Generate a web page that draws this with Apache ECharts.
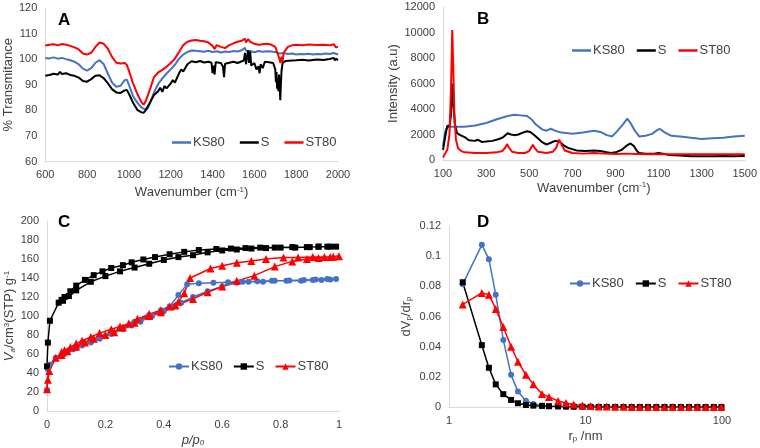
<!DOCTYPE html>
<html><head><meta charset="utf-8">
<script src="https://cdn.jsdelivr.net/npm/echarts@6/dist/echarts.min.js"></script>
<style>html,body{margin:0;padding:0;background:#fff}#c{width:760px;height:448px}</style>
</head><body><div id="c"></div>
<script>
// ---------- Panel A : FTIR ----------
const ftirKS80X = [600,620,640,660,680,700,720,740,760,780,800,820,840,860,880,900,920,940,960,980,990,1000,1020,1040,1060,1080,1090,1100,1120,1140,1160,1180,1200,1220,1240,1260,1280,1300,1320,1340,1360,1380,1400,1420,1440,1460,1480,1500,1520,1540,1555,1560,1580,1600,1620,1640,1660,1680,1700,1720,1740,1760,1780,1800,1820,1840,1860,1880,1900,1920,1940,1960,1980,2000];
const ftirKS80Y = [100.5,100.3,100.7,100.2,100.5,100.0,99.6,99.0,98.0,96.3,95.5,96.5,98.6,99.6,98.0,94.2,90.8,89.2,89.6,91.8,92.0,90.0,85.5,83.0,81.2,80.3,80.8,82.5,87.0,90.3,92.5,94.4,96.0,97.8,100.2,101.8,102.8,103.4,103.3,103.1,102.9,103.3,102.8,103.1,102.6,103.0,102.8,103.2,103.0,103.5,104.4,103.3,103.2,102.7,103.2,102.9,103.1,103.0,102.8,102.2,102.4,102.0,102.2,101.8,102.0,101.9,102.1,101.8,102.0,101.9,102.2,102.0,102.4,101.8];
const ftirSX = [600,620,640,660,670,680,700,720,740,760,780,800,820,840,860,880,900,920,940,960,980,990,1000,1020,1040,1060,1070,1080,1100,1120,1140,1150,1160,1170,1180,1200,1210,1220,1240,1250,1260,1280,1300,1320,1340,1360,1380,1395,1400,1405,1410,1415,1440,1450,1455,1460,1480,1500,1520,1540,1550,1555,1560,1570,1575,1580,1585,1600,1610,1620,1625,1630,1640,1650,1670,1690,1700,1703,1706,1709,1712,1715,1718,1721,1724,1727,1730,1735,1750,1780,1800,1830,1860,1900,1930,1960,1980,1985,1990,2000];
const ftirSY = [93.5,93.8,94.3,94.0,95.0,94.2,94.5,93.8,93.5,92.8,91.5,91.2,92.2,93.5,93.7,92.5,90.5,88.2,87.0,86.8,87.8,88.0,86.5,83.0,80.2,79.2,79.0,80.0,83.0,86.0,87.5,88.8,87.2,89.5,88.6,90.5,91.8,90.8,94.5,96.0,95.2,98.0,99.2,98.8,99.3,98.7,99.0,98.6,94.5,97.5,94.0,98.8,98.5,97.0,93.0,98.2,98.6,99.0,98.5,99.2,99.5,102.5,98.0,103.5,98.5,103.0,97.5,98.5,96.0,97.2,94.5,98.0,96.5,99.0,98.8,98.5,96.0,91.0,95.0,88.5,92.0,87.5,94.0,89.0,84.0,90.5,95.5,98.5,99.3,99.5,99.6,99.8,99.5,99.9,99.7,100.1,100.5,99.5,100.3,99.6];
const ftirST80X = [600,620,640,660,680,700,720,740,760,780,800,820,840,860,880,900,920,940,960,980,990,1000,1020,1040,1060,1070,1080,1100,1120,1140,1160,1180,1200,1220,1240,1260,1280,1300,1320,1340,1360,1380,1400,1410,1420,1440,1460,1480,1500,1520,1540,1555,1560,1570,1580,1600,1620,1640,1660,1680,1700,1710,1720,1725,1730,1735,1740,1760,1780,1800,1830,1860,1900,1930,1960,1980,1990,2000];
const ftirST80Y = [105.3,105.6,105.8,105.4,105.9,105.6,105.2,104.6,103.8,102.2,101.8,102.5,104.8,106.5,106.0,104.0,100.8,98.6,98.3,98.5,97.8,95.5,90.5,86.5,83.2,82.2,83.5,88.0,93.0,94.8,95.8,97.0,98.5,100.2,102.8,105.5,106.8,107.3,107.5,107.2,107.0,106.5,105.2,104.0,105.5,104.8,104.3,105.5,106.2,106.8,107.2,108.0,106.5,107.8,106.8,106.0,105.6,105.8,106.0,105.7,104.8,102.5,100.0,98.5,101.0,99.0,102.5,104.8,105.4,105.6,105.4,105.7,105.5,105.6,105.4,105.8,104.6,104.8];

// ---------- Panel B : Raman ----------
const ramKS80X = [100,110,120,150,200,250,300,350,400,430,460,490,510,530,560,580,600,620,650,700,750,800,830,860,885,910,935,955,970,990,1010,1040,1070,1090,1105,1130,1160,1200,1250,1300,1350,1400,1450,1500];
const ramKS80Y = [1100,2200,2600,2600,2600,2700,2900,3200,3450,3550,3500,3450,3200,2800,2400,2300,2450,2300,2150,2050,2150,2300,2200,1950,1850,2300,2800,3250,2900,2300,1850,1900,2050,2300,2450,2150,1900,1850,1750,1650,1700,1750,1850,1900];
const ramSX = [100,110,120,130,137,143,148,155,165,180,200,220,250,260,280,300,330,360,380,400,415,430,450,470,490,505,520,540,560,580,600,620,640,660,680,700,720,760,800,830,860,880,900,930,950,970,985,1000,1010,1040,1080,1100,1120,1150,1200,1250,1300,1350,1400,1450,1500];
const ramSY = [800,1800,2700,2600,3500,6000,4500,2800,2100,1950,1800,1550,1500,1600,1420,1450,1500,1650,1800,2100,2000,1950,2000,2150,2250,2200,2000,1700,1400,1200,1350,1500,1450,1150,950,850,750,700,750,700,600,550,600,800,1100,1300,1100,700,550,500,500,550,500,400,350,300,300,300,320,300,320];
const ramST80X = [100,110,120,130,137,143,148,153,160,170,185,200,250,300,350,375,390,397,405,420,450,480,500,510,517,525,540,580,610,625,639,650,665,700,750,800,850,900,950,1000,1050,1100,1200,1300,1400,1500];
const ramST80Y = [200,500,800,2000,5500,10200,7000,3500,1600,900,700,600,550,550,600,700,1000,1250,1000,650,550,550,700,1000,1200,950,650,550,650,950,1600,1200,750,550,500,550,500,480,500,480,450,450,450,450,450,450];

// ---------- Panel C : isotherms ----------
const isoKS80P = [0,0.003,0.01,0.03,0.05,0.07,0.09,0.12,0.15,0.18,0.22,0.26,0.29,0.32,0.36,0.4,0.43,0.46,0.5,0.55,0.6,0.65,0.69,0.74,0.78,0.82,0.87,0.91,0.94,0.97,0.99,0.96,0.92,0.88,0.83,0.77,0.72,0.67,0.62,0.57,0.52,0.48,0.45,0.42,0.39,0.35,0.3,0.25,0.2,0.15,0.1,0.06];
const isoKS80V = [22,44,49,56,58,62,65,69,72,76,81,86,90,94,100,105,109,114,120,126,131,135,136,136,137,137,137,138,138,138.5,139,139,138.5,138,137.5,137,136.5,136,135.5,135,134.5,133.5,122,110,106,101,94,87,79,73,66,60];
const isoSP = [0,0.003,0.01,0.04,0.055,0.075,0.1,0.15,0.2,0.25,0.3,0.35,0.4,0.45,0.5,0.55,0.6,0.65,0.7,0.75,0.8,0.85,0.9,0.93,0.96,0.99,0.97,0.93,0.89,0.84,0.78,0.73,0.68,0.63,0.58,0.52,0.47,0.42,0.37,0.33,0.29,0.26,0.22,0.19,0.16,0.13,0.1,0.08,0.06,0.05];
const isoSV = [47,72,95,114,116,121,127,136,142,147,151,155,159,162,164,167,169,170,171,171.5,172,172,172.5,173,173,173,173,173,172.5,172.5,172,172,171.5,171,170.5,169.5,167.5,165,162,159.5,156.5,153.5,150.5,147,143,138,132,126,120,117];
const isoST80P = [0,0.003,0.008,0.03,0.05,0.07,0.1,0.13,0.16,0.2,0.23,0.26,0.3,0.35,0.39,0.44,0.5,0.55,0.6,0.65,0.71,0.78,0.84,0.89,0.93,0.97,1.0,0.98,0.95,0.91,0.86,0.81,0.75,0.7,0.65,0.6,0.56,0.49,0.47,0.45,0.42,0.39,0.35,0.31,0.28,0.25,0.22,0.18,0.15,0.12,0.1,0.08,0.06,0.05];
const isoST80V = [23,33,42,56,59,63,68,72,76,80,83,88,93,100,104,111,118,125,131,137,142.5,152,157.5,160,161,162,163,162.5,162,162,161.5,161.5,160,158,156,153,150,140,124,115,110,106,102,97,92,89,86,82,78,74,71,67,64,62];

// ---------- Panel D : pore size distribution ----------
const psdR = [1.26,1.74,1.96,2.2,2.5,2.85,3.2,3.66,4.15,4.8,5.4,6.3,7.2,8.2,9.5,10.9,12.5,14.3,16.5,19,21.8,25,28.7,33,37.9,43.5,50,57.4,66,75.8,87,99];
const psdKS80 = [0.0813,0.1075,0.098,0.0745,0.0445,0.0213,0.0102,0.0042,0.002,0.001,0.0005,0.0003,0.0002,0.0001,0.0001,0,0,0,0,0,0,0,0,0,0,0,0,0,0,0,0,0];
const psdS = [0.0827,0.041,0.026,0.015,0.0085,0.0047,0.0025,0.0013,0.0009,0.0007,0.0005,0.0004,0.0003,0.0002,0.0002,0.0001,0,0,0,0,0,0,0,0,0,0,0,0,0,0,0,0];
const psdST80 = [0.068,0.0756,0.0745,0.065,0.053,0.040,0.030,0.0213,0.0151,0.0087,0.0067,0.004,0.0027,0.0016,0.001,0.0007,0.0004,0.0003,0.0002,0.0001,0,0,0,0,0,0,0,0,0,0,0,0];

const BLUE = '#4472C4', BLACK = '#000000', RED = '#FF0000';
const FONT = 'Liberation Sans';
const TXT = '#404040';
const zip = (xs, ys) => xs.map((x, i) => [x, ys[i]]);

const axisCommon = {
  axisLine: {show: true, lineStyle: {color: '#D9D9D9', width: 1}},
  axisTick: {show: false},
  splitLine: {show: false},
  axisLabel: {color: TXT, fontFamily: FONT, fontSize: 11, formatter: v => String(+v.toFixed(6))},
  nameLocation: 'middle',
  nameTextStyle: {color: TXT, fontFamily: FONT, fontSize: 13}
};
const richSup = {
  sup: {fontSize: 8, verticalAlign: 'top', lineHeight: 14, color: TXT, fontFamily: FONT},
  sub: {fontSize: 8, verticalAlign: 'bottom', lineHeight: 14, color: TXT, fontFamily: FONT},
  it: {fontStyle: 'italic', fontSize: 13, lineHeight: 14, color: TXT, fontFamily: FONT},
  itsub: {fontStyle: 'italic', fontSize: 8, verticalAlign: 'bottom', lineHeight: 14, color: TXT, fontFamily: FONT}
};
function ax(extra) {
  const o = Object.assign({}, axisCommon, extra);
  o.nameTextStyle = Object.assign({}, axisCommon.nameTextStyle, {lineHeight: 14, rich: richSup}, extra.nameTextStyle || {});
  o.axisLabel = Object.assign({}, axisCommon.axisLabel, extra.axisLabel || {});
  return o;
}

function lineSeries(name, gi, xs, ys, color) {
  return {name, type: 'line', xAxisIndex: gi, yAxisIndex: gi, data: zip(xs, ys),
    showSymbol: false, symbol: 'none', lineStyle: {color, width: 2}, itemStyle: {color},
    animation: false, silent: true};
}
function markSeries(name, gi, xs, ys, color, symbol, size) {
  return {name, type: 'line', xAxisIndex: gi, yAxisIndex: gi, data: zip(xs, ys),
    symbol, symbolSize: size, showSymbol: true, lineStyle: {color, width: 1.5},
    itemStyle: {color, borderWidth: 0}, animation: false, silent: true};
}
function legend(prefix, left, top, gap, plain) {
  const names = [prefix + ':KS80', prefix + ':S', prefix + ':ST80'];
  return {left, top, itemWidth: plain ? 19 : 20, itemHeight: plain ? 2.5 : 8, itemGap: gap,
    data: plain ? names.map(n => ({name: n, icon: 'rect'})) : names,
    formatter: n => n.split(':')[1],
    textStyle: {color: TXT, fontFamily: FONT, fontSize: 13, padding: [0, 0, 0, -3]},
    selectedMode: false};
}
function label(t, x, y) {
  return {type: 'text', left: x, top: y, style: {text: t, font: 'bold 17px "Liberation Sans"', fill: '#000'}};
}

const chart = echarts.init(document.getElementById('c'), null, {renderer: 'canvas'});
chart.setOption({
  backgroundColor: '#fff',
  animation: false,
  grid: [
    {left: 43, right: 422, top: 8, bottom: 286.5},
    {left: 443, right: 13, top: 7, bottom: 288},
    {left: 47, right: 421, top: 221, bottom: 36},
    {left: 449, right: 38, top: 226, bottom: 41}
  ],
  xAxis: [
    ax({gridIndex: 0, type: 'value', min: 600, max: 2000, interval: 200, name: 'Wavenumber (cm{sup|-1})', nameGap: 24}),
    ax({gridIndex: 1, type: 'value', min: 100, max: 1500, interval: 200, name: 'Wavenumber (cm{sup|-1})', nameGap: 21}),
    ax({gridIndex: 2, type: 'value', min: 0, max: 1, interval: 0.2, name: '{it|p}{it|/p}{itsub|0}', nameGap: 22}),
    ax({gridIndex: 3, type: 'log', logBase: 10, min: 1, max: 100, name: 'r{sub|p} /nm', nameGap: 22})
  ],
  yAxis: [
    ax({gridIndex: 0, type: 'value', min: 60, max: 120, interval: 10, name: '% Transmitance', nameGap: 26}),
    ax({gridIndex: 1, type: 'value', min: 0, max: 12000, interval: 2000, name: 'Intensity (a.u)', nameGap: 40}),
    ax({gridIndex: 2, type: 'value', min: 0, max: 200, interval: 20, name: '{it|V}{itsub|a}/cm{sup|3}(STP) g{sup|-1}', nameGap: 30}),
    ax({gridIndex: 3, type: 'value', min: 0, max: 0.12, interval: 0.02, name: 'dV{sub|p}/dr{sub|p}', nameGap: 36})
  ],
  legend: [
    legend('A', 167, 131, 15, true),
    legend('B', 567, 39, 12, true),
    legend('C', 163, 355, 10, false),
    legend('D', 564, 272, 11, false)
  ],
  graphic: [label('A', 58, 12), label('B', 477, 11), label('C', 58, 214), label('D', 477, 214)],
  series: [
    lineSeries('A:KS80', 0, ftirKS80X, ftirKS80Y, BLUE),
    lineSeries('A:S', 0, ftirSX, ftirSY, BLACK),
    lineSeries('A:ST80', 0, ftirST80X, ftirST80Y, RED),
    lineSeries('B:KS80', 1, ramKS80X, ramKS80Y, BLUE),
    lineSeries('B:S', 1, ramSX, ramSY, BLACK),
    lineSeries('B:ST80', 1, ramST80X, ramST80Y, RED),
    markSeries('C:KS80', 2, isoKS80P, isoKS80V, BLUE, 'circle', 6),
    markSeries('C:S', 2, isoSP, isoSV, BLACK, 'rect', 6),
    markSeries('C:ST80', 2, isoST80P, isoST80V, RED, 'triangle', 8),
    markSeries('D:KS80', 3, psdR, psdKS80, BLUE, 'circle', 6),
    markSeries('D:S', 3, psdR, psdS, BLACK, 'rect', 6),
    markSeries('D:ST80', 3, psdR, psdST80, RED, 'triangle', 8)
  ]
});
</script></body></html>
